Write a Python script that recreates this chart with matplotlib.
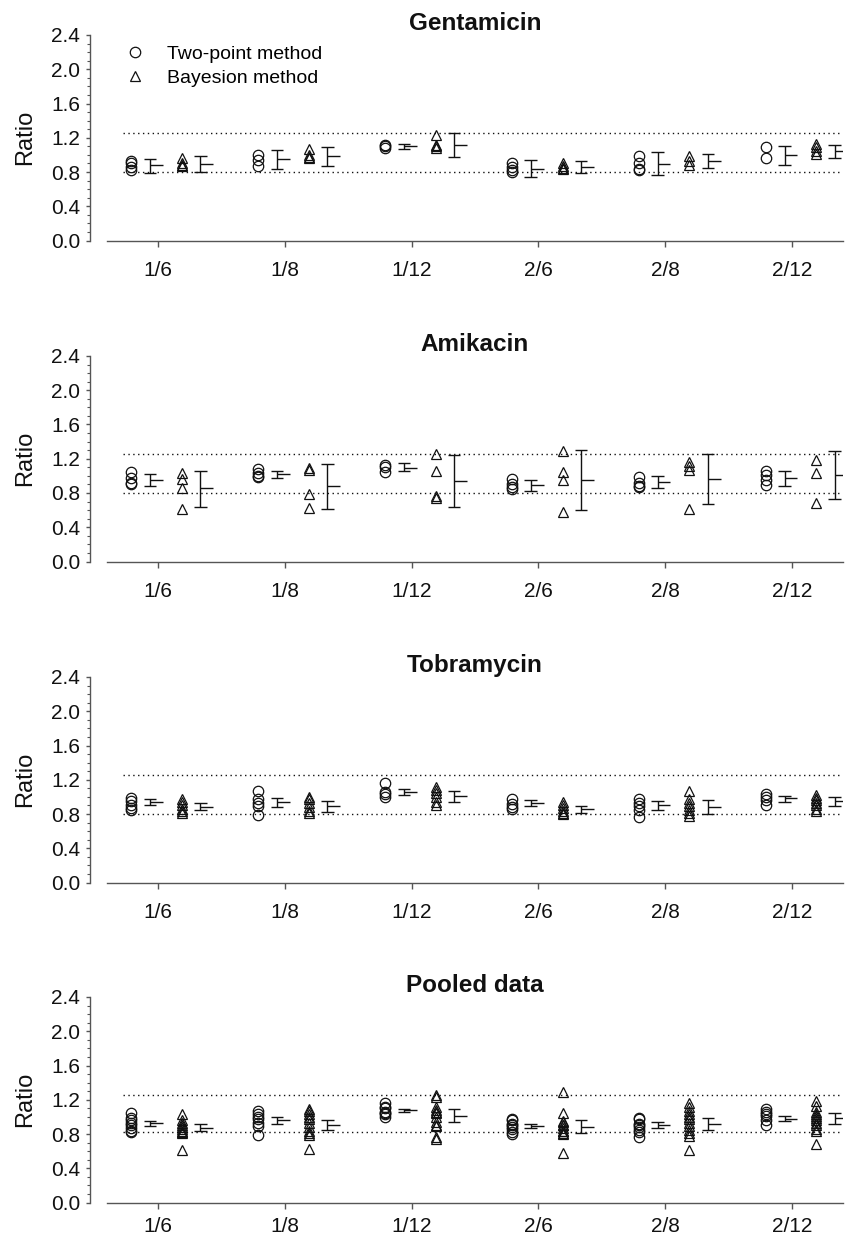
import matplotlib
matplotlib.use('Agg')
import matplotlib.pyplot as plt
from matplotlib.ticker import MultipleLocator, FixedLocator
from matplotlib.lines import Line2D

plt.rcParams['font.family'] = ['Liberation Sans', 'DejaVu Sans']

# ── categories (dose interval / sampling) ─────────────────────
categories = ['1/6', '1/8', '1/12', '2/6', '2/8', '2/12']

# ── Gentamicin ────────────────────────────────────────────────
gen_two = [[0.93, 0.90, 0.86, 0.82], [1.00, 0.94, 0.87],
           [1.11, 1.10, 1.08], [0.90, 0.86, 0.82, 0.80],
           [0.99, 0.90, 0.84, 0.82], [1.09, 0.96]]
gen_bay = [[0.96, 0.91, 0.88, 0.87], [1.07, 1.00, 0.97, 0.96],
           [1.23, 1.12, 1.10, 1.08], [0.91, 0.87, 0.85, 0.84],
           [0.99, 0.93, 0.88], [1.13, 1.09, 1.05, 1.01]]
gen_two_bar = [(0.886, 0.79, 0.948), (0.948, 0.83, 1.06), (1.10, 1.065, 1.124),
               (0.835, 0.74, 0.937), (0.898, 0.76, 1.034), (1.003, 0.886, 1.10)]
gen_bay_bar = [(0.897, 0.80, 0.987), (0.987, 0.87, 1.093), (1.12, 0.98, 1.256),
               (0.858, 0.79, 0.925), (0.929, 0.847, 1.007), (1.045, 0.96, 1.11)]

# ── Amikacin ──────────────────────────────────────────────────
ami_two = [[1.04, 0.97, 0.92, 0.91], [1.08, 1.03, 1.00, 0.99],
           [1.13, 1.10, 1.04], [0.96, 0.91, 0.87, 0.85],
           [0.99, 0.92, 0.88, 0.87], [1.06, 1.01, 0.95, 0.89]]
ami_bay = [[1.03, 0.96, 0.86, 0.61], [1.09, 1.07, 0.79, 0.63],
           [1.26, 1.06, 0.76, 0.74], [1.29, 1.05, 0.95, 0.58],
           [1.16, 1.11, 1.07, 0.61], [1.19, 1.03, 0.68]]
ami_two_bar = [(0.953, 0.887, 1.019), (1.019, 0.97, 1.062), (1.097, 1.062, 1.148),
               (0.895, 0.829, 0.953), (0.93, 0.864, 1.00), (0.973, 0.887, 1.058)]
ami_bay_bar = [(0.856, 0.634, 1.062), (0.883, 0.615, 1.14), (0.941, 0.642, 1.245),
               (0.953, 0.603, 1.303), (0.965, 0.669, 1.256), (1.015, 0.727, 1.295)]

# ── Tobramycin ────────────────────────────────────────────────
tob_two = [[0.99, 0.95, 0.90, 0.87, 0.85], [1.07, 0.97, 0.93, 0.89, 0.79],
           [1.16, 1.06, 1.03, 1.00], [0.97, 0.92, 0.88, 0.86],
           [0.97, 0.93, 0.89, 0.85, 0.77], [1.03, 1.00, 0.96, 0.91]]
tob_bay = [[0.97, 0.94, 0.90, 0.86, 0.83, 0.81], [1.00, 0.97, 0.93, 0.88, 0.83, 0.81],
           [1.11, 1.08, 1.05, 1.00, 0.94, 0.90], [0.94, 0.90, 0.87, 0.83, 0.81, 0.80],
           [1.07, 0.97, 0.93, 0.89, 0.85, 0.81, 0.78],
           [1.02, 0.99, 0.96, 0.93, 0.90, 0.86, 0.84]]
tob_two_bar = [(0.944, 0.905, 0.97), (0.936, 0.878, 0.982), (1.052, 1.021, 1.087),
               (0.932, 0.893, 0.963), (0.905, 0.846, 0.955), (0.982, 0.944, 1.013)]
tob_bay_bar = [(0.885, 0.846, 0.924), (0.897, 0.827, 0.955), (1.01, 0.944, 1.072),
               (0.854, 0.808, 0.893), (0.885, 0.80, 0.963), (0.947, 0.897, 0.994)]

# ── Pooled data ───────────────────────────────────────────────
pool_two = [[1.04, 0.99, 0.96, 0.93, 0.90, 0.87, 0.84, 0.82],
            [1.07, 1.03, 1.00, 0.97, 0.93, 0.89, 0.79],
            [1.16, 1.11, 1.10, 1.06, 1.04, 1.03, 1.00],
            [0.97, 0.96, 0.92, 0.90, 0.88, 0.86, 0.82, 0.80],
            [0.99, 0.97, 0.92, 0.90, 0.88, 0.85, 0.82, 0.77],
            [1.09, 1.06, 1.03, 1.01, 0.96, 0.91]]
pool_bay = [[1.03, 0.96, 0.93, 0.90, 0.88, 0.86, 0.84, 0.82, 0.81, 0.61],
            [1.09, 1.07, 1.03, 1.00, 0.97, 0.93, 0.88, 0.83, 0.81, 0.79, 0.63],
            [1.25, 1.23, 1.11, 1.08, 1.06, 1.05, 1.00, 0.94, 0.90, 0.89, 0.76, 0.74],
            [1.29, 1.05, 0.95, 0.94, 0.91, 0.90, 0.87, 0.84, 0.83, 0.81, 0.80, 0.58],
            [1.16, 1.11, 1.07, 1.03, 1.00, 0.97, 0.93, 0.89, 0.85, 0.81, 0.78, 0.61],
            [1.19, 1.13, 1.06, 1.03, 1.01, 0.99, 0.96, 0.93, 0.90, 0.86, 0.84, 0.68]]
pool_two_bar = [(0.929, 0.898, 0.948), (0.96, 0.921, 0.995), (1.076, 1.057, 1.092),
                (0.89, 0.871, 0.917), (0.902, 0.871, 0.937), (0.979, 0.948, 1.006)]
pool_bay_bar = [(0.875, 0.832, 0.917), (0.906, 0.844, 0.968), (1.014, 0.937, 1.092),
                (0.883, 0.813, 0.96), (0.917, 0.844, 0.987), (0.987, 0.921, 1.045)]

# reference limits (dotted lines)
upper_limit = 1.25
lower_limits = [0.80, 0.80, 0.80, 0.82]

panels = [
    ('Gentamicin', gen_two, gen_bay, gen_two_bar, gen_bay_bar),
    ('Amikacin', ami_two, ami_bay, ami_two_bar, ami_bay_bar),
    ('Tobramycin', tob_two, tob_bay, tob_two_bar, tob_bay_bar),
    ('Pooled data', pool_two, pool_bay, pool_two_bar, pool_bay_bar),
]

# ══════════════════════════════════════════════════════════════
W, H = 846, 1239
fig = plt.figure(figsize=(W / 100, H / 100), dpi=100, facecolor='white')

tops = [35, 356, 677, 997]   # pixel row of y=2.4
AX_H = 205.5
AX_L, AX_W = 107, 736
SPINE = '#555555'
INK = '#111111'
MS = 7.5

OFF_TWO, OFF_TWO_BAR = -0.21, -0.06
OFF_BAY, OFF_BAY_BAR = 0.19, 0.335
CAP, MEAN_LEN = 0.05, 0.10


def draw_bar(ax, x, stats):
    mean, lo, hi = stats
    ax.vlines(x, lo, hi, color=INK, lw=1.0)
    ax.hlines([lo, hi], x - CAP, x + CAP, color=INK, lw=1.0)
    ax.hlines(mean, x, x + MEAN_LEN, color=INK, lw=1.0)


for k, (title, two, bay, two_bar, bay_bar) in enumerate(panels):
    top = tops[k]
    ax = fig.add_axes([AX_L / W, 1 - (top + AX_H) / H, AX_W / W, AX_H / H])

    ax.hlines([upper_limit, lower_limits[k]], -0.27, 5.38, color=INK,
              lw=1.0, linestyles=(0, (1, 2.5)))

    for i in range(len(categories)):
        ax.plot([i + OFF_TWO] * len(two[i]), two[i], 'o', ms=MS, mfc='none',
                mec=INK, mew=0.9)
        ax.plot([i + OFF_BAY] * len(bay[i]), bay[i], '^', ms=MS, mfc='none',
                mec=INK, mew=0.9)
        draw_bar(ax, i + OFF_TWO_BAR, two_bar[i])
        draw_bar(ax, i + OFF_BAY_BAR, bay_bar[i])

    ax.set_xlim(-0.4, 5.4)
    ax.set_ylim(0, 2.4)
    ax.set_xticks(range(len(categories)))
    ax.set_xticklabels(categories)
    ax.yaxis.set_major_locator(FixedLocator([0.0, 0.4, 0.8, 1.2, 1.6, 2.0, 2.4]))
    ax.yaxis.set_major_formatter(plt.FuncFormatter(lambda v, p: f'{v:.1f}'))
    ax.yaxis.set_minor_locator(MultipleLocator(0.1))

    for s in ('top', 'right'):
        ax.spines[s].set_visible(False)
    ax.spines['left'].set_position(('outward', 12.2))
    for s in ('left', 'bottom'):
        ax.spines[s].set_color(SPINE)
        ax.spines[s].set_linewidth(1.0)

    # last panel sits at the bottom edge: keep its labels inside the canvas
    xpad = 11 if k < 3 else 6.5
    ax.tick_params(axis='x', direction='out', length=4, width=1.0,
                   color=SPINE, pad=xpad, labelsize=15, labelcolor=INK)
    ax.tick_params(axis='y', which='major', direction='out', length=3,
                   width=1.0, color=SPINE, pad=4, labelsize=15, labelcolor=INK)
    ax.tick_params(axis='y', which='minor', direction='out', length=2,
                   width=0.8, color=SPINE)

    ax.set_ylabel('Ratio', fontsize=17, color=INK)
    ax.yaxis.set_label_coords(-0.096, 0.5)
    ax.set_title(title, fontsize=17.5, fontweight='bold', color=INK, pad=2)

    if k == 0:
        handles = [Line2D([], [], ls='none', marker='o', ms=MS, mfc='none',
                          mec=INK, mew=0.9),
                   Line2D([], [], ls='none', marker='^', ms=MS, mfc='none',
                          mec=INK, mew=0.9)]
        ax.legend(handles, ['Two-point method', 'Bayesion method'],
                  loc='upper left', bbox_to_anchor=(0.025, 0.95),
                  frameon=False, fontsize=14, handlelength=1.0,
                  handletextpad=1.15, labelspacing=0.35, borderpad=0,
                  borderaxespad=0)

fig.savefig('out.png', dpi=100, facecolor='white')
